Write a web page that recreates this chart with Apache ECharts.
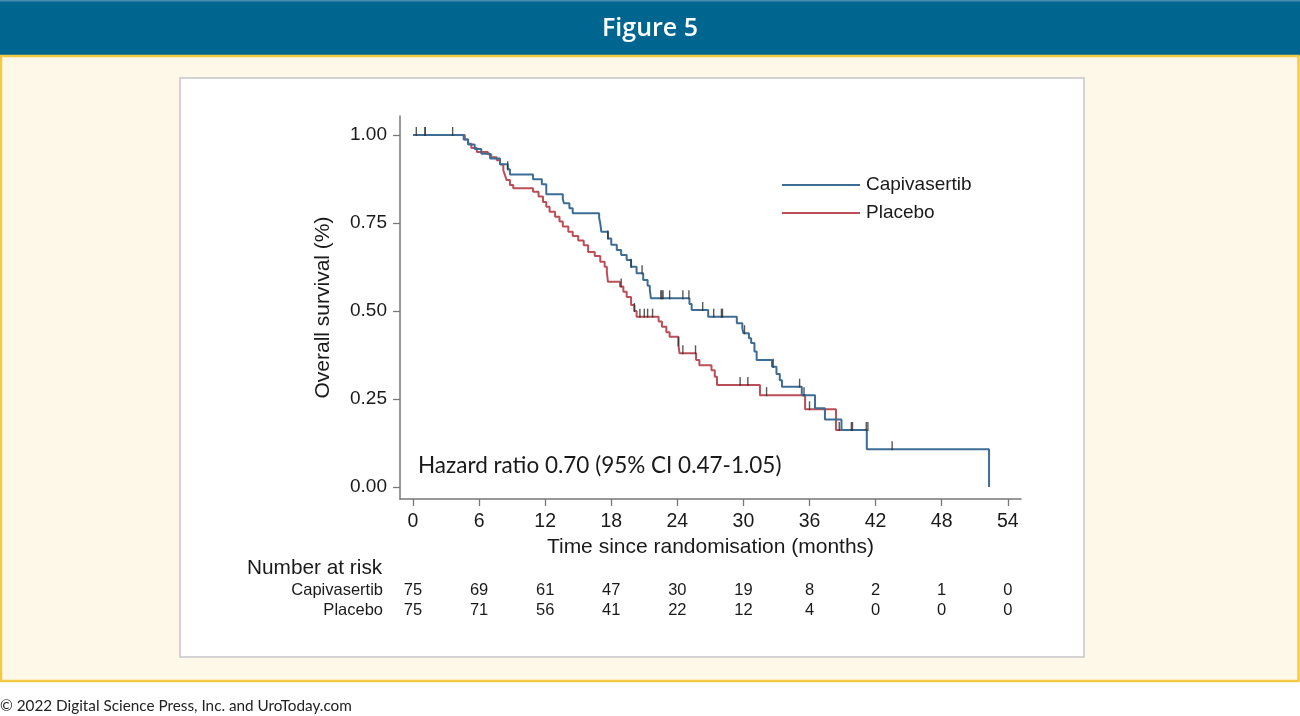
<!DOCTYPE html>
<html>
<head>
<meta charset="utf-8">
<script src="https://cdn.jsdelivr.net/npm/echarts@6/dist/echarts.min.js"></script>
<style>
  html, body { margin: 0; padding: 0; background: #ffffff; }
  #chart { width: 1300px; height: 716px; }
</style>
</head>
<body>
<div id="chart"></div>
<script>
// ---------- data ----------
const seriesNames = ['Capivasertib', 'Placebo'];

// Kaplan-Meier step curves (time in months, survival after each drop)
const capTimes = [0, 4.6, 5.0, 5.6, 6.2, 7.0, 7.9, 8.6, 8.8, 10.9, 11.7, 12.1, 13.6, 13.7, 14.2, 14.5, 16.9, 17.0, 17.1, 17.7, 18.0, 18.5, 18.9, 19.4, 19.8, 20.3, 20.9, 21.3, 21.5, 21.6, 25.1, 25.3, 26.8, 29.4, 29.9, 30.0, 30.5, 30.7, 31.0, 31.2, 32.6, 33.0, 33.3, 33.5, 35.3, 36.5, 37.4, 38.9, 41.2, 52.3];
const capSurv  = [1, 0.987, 0.973, 0.96, 0.947, 0.933, 0.917, 0.903, 0.888, 0.874, 0.86, 0.832, 0.818, 0.806, 0.792, 0.778, 0.764, 0.75, 0.725, 0.706, 0.688, 0.673, 0.659, 0.645, 0.626, 0.607, 0.588, 0.572, 0.56, 0.536, 0.52, 0.503, 0.484, 0.465, 0.451, 0.437, 0.423, 0.409, 0.385, 0.361, 0.342, 0.321, 0.303, 0.285, 0.261, 0.224, 0.192, 0.162, 0.107, 0];

const plaTimes = [0, 4.7, 5.0, 5.3, 5.8, 6.8, 7.1, 7.6, 7.9, 8.2, 8.35, 8.5, 8.8, 9.1, 10.9, 11.4, 11.8, 12.1, 12.4, 12.9, 13.3, 13.6, 14.1, 14.5, 15.0, 15.5, 15.9, 16.5, 17.0, 17.4, 17.6, 17.7, 18.8, 19.1, 19.4, 19.8, 20.1, 20.3, 22.3, 22.6, 23.0, 23.3, 24.1, 24.2, 25.7, 26.0, 27.1, 27.4, 27.6, 31.5, 35.6, 38.4, 41.2];
const plaSurv  = [1, 0.987, 0.975, 0.963, 0.952, 0.945, 0.937, 0.928, 0.916, 0.9, 0.886, 0.872, 0.858, 0.849, 0.839, 0.825, 0.81, 0.796, 0.782, 0.768, 0.754, 0.74, 0.725, 0.713, 0.7, 0.687, 0.668, 0.656, 0.64, 0.626, 0.61, 0.583, 0.57, 0.555, 0.54, 0.517, 0.5, 0.484, 0.47, 0.455, 0.44, 0.427, 0.403, 0.38, 0.361, 0.346, 0.332, 0.313, 0.29, 0.261, 0.221, 0.162, 0.162];

// censoring marks (months)
const capCensor = [0.3, 1.1, 8.6, 17.7, 19.8, 20.8, 22.5, 22.6, 22.7, 23.3, 24.5, 25.05, 26.3, 27.3, 28.0, 28.1, 30.1, 32.7, 35.1, 35.5, 43.5];
const plaCensor = [1.1, 3.6, 18.9, 20.1, 20.6, 21.0, 21.3, 21.75, 24.1, 24.5, 25.65, 29.7, 30.4, 32.1, 36.0, 38.7, 39.8, 39.9, 41.15, 41.3];

// number at risk table
const riskTimes = [0, 6, 12, 18, 24, 30, 36, 42, 48, 54];
const capRisk = [75, 69, 61, 47, 30, 19, 8, 2, 1, 0];
const plaRisk = [75, 71, 56, 41, 22, 12, 4, 0, 0, 0];

// axis ticks
const xTicks = [0, 6, 12, 18, 24, 30, 36, 42, 48, 54];
const yTicks = [0, 0.25, 0.5, 0.75, 1];

// ---------- helpers ----------
function pairs(ts, ss) { return ts.map((t, i) => [t, ss[i]]); }
function survAt(ts, ss, t) {
  let v = ss[0];
  for (let i = 0; i < ts.length; i++) { if (ts[i] <= t) v = ss[i]; }
  return v;
}
const capColor = '#3d6d95';
const plaColor = '#bb4e57';
const axisColor = '#777777';
const textColor = '#1a1a1a';
const chartFont = 'Liberation Sans';

const chart = echarts.init(document.getElementById('chart'), null, { renderer: 'canvas' });

const riskLabel = {
  show: true, position: 'inside', formatter: p => String(p.value[2]),
  fontFamily: chartFont, fontSize: 16.5, color: textColor, textBorderWidth: 0, opacity: 1
};

const option = {
  animation: false,
  backgroundColor: '#ffffff',
  graphic: [
    { type: 'rect', z: -10, shape: { x: 0, y: 0, width: 1300, height: 56 }, style: { fill: '#00668f' } },
    { type: 'rect', z: -10, shape: { x: 0, y: 0, width: 1300, height: 1.5 }, style: { fill: '#4a8db0' } },
    { type: 'rect', z: -10, shape: { x: 1, y: 56, width: 1297.5, height: 625 }, style: { fill: '#fef8e9', stroke: '#f6c945', lineWidth: 2.5 } },
    { type: 'rect', z: -9, shape: { x: 180, y: 78, width: 904, height: 579 }, style: { fill: '#ffffff', stroke: '#d3d3d3', lineWidth: 2 } },
    { type: 'text', z: 100, x: 650, y: 29, style: { text: 'Figure 5', fill: '#ffffff', font: '600 25px "Open Sans"', textAlign: 'center', textVerticalAlign: 'middle' } },
    { type: 'text', z: 100, x: 0, y: 706, style: { text: '\u00a9 2022 Digital Science Press, Inc. and UroToday.com', fill: '#222222', font: '15.3px Lato', textAlign: 'left', textVerticalAlign: 'middle' } },
    { type: 'text', z: 100, x: 247, y: 568, style: { text: 'Number at risk', fill: textColor, font: '20.8px "Liberation Sans"', textAlign: 'left', textVerticalAlign: 'middle' } },
    { type: 'text', z: 100, x: 418, y: 466, style: { text: 'Hazard ratio 0.70 (95% CI 0.47-1.05)', fill: textColor, font: '22.5px Lato', textAlign: 'left', textVerticalAlign: 'middle' } }
  ],
  legend: {
    data: seriesNames,
    orient: 'vertical',
    left: 777,
    top: 170,
    itemWidth: 78,
    itemHeight: 2,
    itemGap: 8,
    icon: 'rect',
    textStyle: { fontFamily: chartFont, fontSize: 19, color: textColor, lineHeight: 20, padding: [0, 0, 0, 1] }
  },
  grid: [
    { left: 400, top: 116, width: 621, height: 383 },
    { left: 400, top: 580, width: 621, height: 40 }
  ],
  xAxis: [
    {
      gridIndex: 0, type: 'value', min: -1.18, max: 55.2,
      axisLine: { show: true, onZero: false, lineStyle: { color: axisColor, width: 1.5 } },
      axisTick: { show: true, customValues: xTicks, length: 7, lineStyle: { color: axisColor, width: 1.3 } },
      axisLabel: { customValues: xTicks, fontFamily: chartFont, fontSize: 19.5, color: textColor, margin: 13 },
      splitLine: { show: false },
      name: 'Time since randomisation (months)', nameLocation: 'middle', nameGap: 36,
      nameTextStyle: { fontFamily: chartFont, fontSize: 21, color: textColor }
    },
    { gridIndex: 1, type: 'value', min: -1.18, max: 55.2, show: false }
  ],
  yAxis: [
    {
      gridIndex: 0, type: 'value', min: -0.034, max: 1.054,
      axisLine: { show: true, onZero: false, lineStyle: { color: axisColor, width: 1.5 } },
      axisTick: { show: true, customValues: yTicks, length: 7, lineStyle: { color: axisColor, width: 1.3 } },
      axisLabel: { customValues: yTicks, fontFamily: chartFont, fontSize: 19, color: textColor, margin: 13, formatter: v => v.toFixed(2) },
      splitLine: { show: false },
      name: 'Overall survival (%)', nameLocation: 'middle', nameGap: 66, nameRotate: 90,
      nameTextStyle: { fontFamily: chartFont, fontSize: 21, color: textColor }
    },
    {
      gridIndex: 1, type: 'category', data: seriesNames, inverse: true,
      axisLine: { show: false }, axisTick: { show: false },
      axisLabel: { interval: 0, fontFamily: chartFont, fontSize: 16.5, color: textColor, margin: 17 }
    }
  ],
  series: [
    {
      name: 'Capivasertib', type: 'line', step: 'end', xAxisIndex: 0, yAxisIndex: 0,
      data: pairs(capTimes, capSurv), showSymbol: false, z: 4,
      lineStyle: { color: capColor, width: 2 }, itemStyle: { color: capColor }
    },
    {
      name: 'Placebo', type: 'line', step: 'end', xAxisIndex: 0, yAxisIndex: 0,
      data: pairs(plaTimes, plaSurv), showSymbol: false, z: 3,
      lineStyle: { color: plaColor, width: 2 }, itemStyle: { color: plaColor }
    },
    {
      name: 'capCensor', type: 'scatter', xAxisIndex: 0, yAxisIndex: 0, z: 5,
      data: capCensor.map(t => [t, survAt(capTimes, capSurv, t)]),
      symbol: 'rect', symbolSize: [1.4, 9], symbolOffset: [0, -3.5],
      itemStyle: { color: '#2e2e2e' }, silent: true
    },
    {
      name: 'plaCensor', type: 'scatter', xAxisIndex: 0, yAxisIndex: 0, z: 5,
      data: plaCensor.map(t => [t, survAt(plaTimes, plaSurv, t)]),
      symbol: 'rect', symbolSize: [1.4, 9], symbolOffset: [0, -3.5],
      itemStyle: { color: '#2e2e2e' }, silent: true
    },
    {
      name: 'riskCap', type: 'scatter', xAxisIndex: 1, yAxisIndex: 1,
      data: riskTimes.map((t, i) => [t, seriesNames[0], capRisk[i]]),
      symbolSize: 0, itemStyle: { color: textColor }, silent: true,
      label: riskLabel
    },
    {
      name: 'riskPla', type: 'scatter', xAxisIndex: 1, yAxisIndex: 1,
      data: riskTimes.map((t, i) => [t, seriesNames[1], plaRisk[i]]),
      symbolSize: 0, itemStyle: { color: textColor }, silent: true,
      label: riskLabel
    }
  ]
};
chart.setOption(option);
</script>
</body>
</html>
